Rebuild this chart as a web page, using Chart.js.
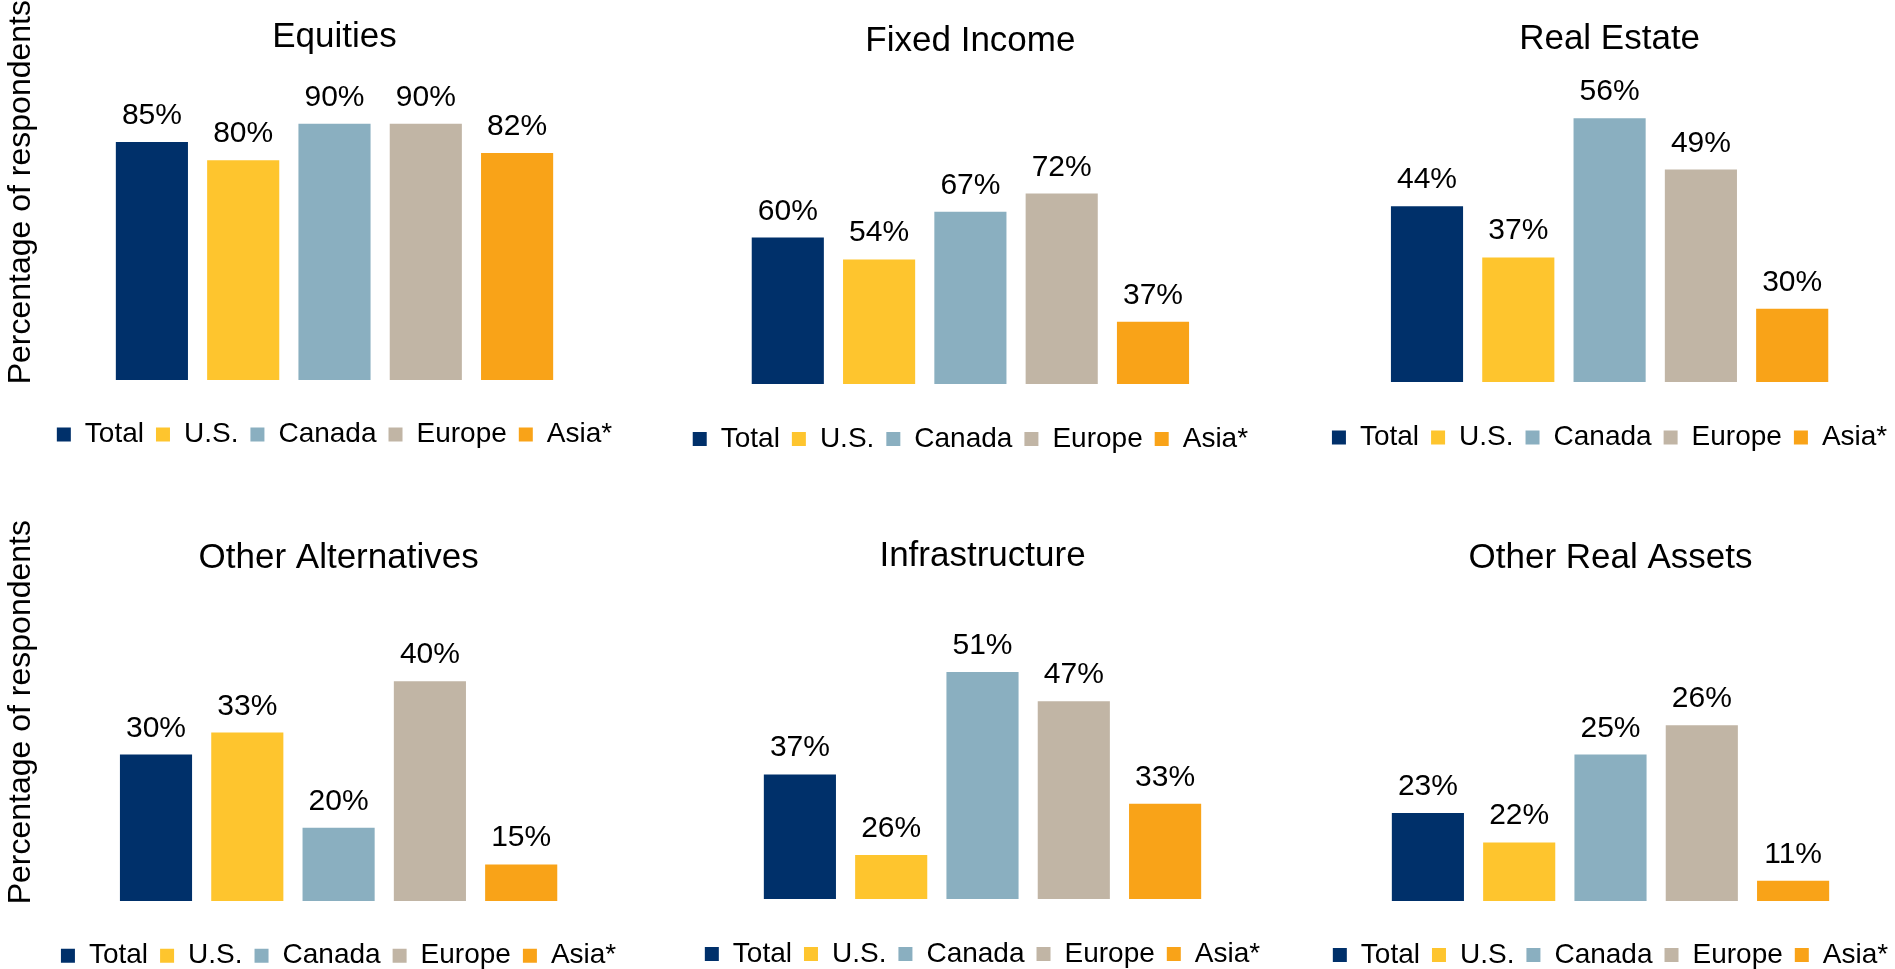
<!DOCTYPE html>
<html>
<head>
<meta charset="utf-8">
<script src="https://cdn.jsdelivr.net/npm/chart.js@4.4.1/dist/chart.umd.min.js"></script>
<style>
  html, body { margin: 0; padding: 0; background: #fff; overflow: hidden; }
  #page { position: relative; width: 1895px; height: 969px; overflow: hidden; background: #fff; }
  .panel { position: absolute; }
</style>
</head>
<body>
<div id="page"></div>
<script>
const regions = ['Total', 'U.S.', 'Canada', 'Europe', 'Asia*'];
const assetClasses = ['Equities', 'Fixed Income', 'Real Estate', 'Other Alternatives', 'Infrastructure', 'Other Real Assets'];
const equities = [85, 80, 90, 90, 82];
const fixedIncome = [60, 54, 67, 72, 37];
const realEstate = [44, 37, 56, 49, 30];
const otherAlternatives = [30, 33, 20, 40, 15];
const infrastructure = [37, 26, 51, 47, 33];
const otherRealAssets = [23, 22, 25, 26, 11];
const yAxisTitle = 'Percentage of respondents';

const regionColors = ['#00306A', '#FEC52E', '#8AAFC0', '#C1B5A5', '#F9A318'];
const FONT = '"Liberation Sans", Arial, Helvetica, sans-serif';
Chart.defaults.font.family = FONT;
Chart.defaults.color = '#000';

const PLOT_W = 596, PLOT_H = 293, GROUP_W = 5 * 91.3;
const TITLE_SIZE = 35, LEGEND_SIZE = 28, LABEL_SIZE = 30, YTITLE_SIZE = 32;
const LEGEND_PAD = 12;

// where each small chart sits on the page
// cx: centre of the bars, t: title middle, base: bar baseline, leg: legend middle
const layouts = [
  {values: equities,          col: 0, top: 0,   cx: 334.5,  t: 37,    base: 380, leg: 434.4, min: 20, max: 100},
  {values: fixedIncome,       col: 1, top: 0,   cx: 970.4,  t: 41.3,  base: 384, leg: 439.1, min: 20, max: 100},
  {values: realEstate,        col: 2, top: 0,   cx: 1609.6, t: 39.7,  base: 382, leg: 437.4, min: 20, max: 60},
  {values: otherAlternatives, col: 0, top: 520, cx: 338.6,  t: 558,   base: 901, leg: 955.7, min: 10, max: 50},
  {values: infrastructure,    col: 1, top: 520, cx: 982.5,  t: 556,   base: 899, leg: 954.1, min: 20, max: 60},
  // the source draws the small Asia* bar on its own short scale
  {values: otherRealAssets,   col: 2, top: 520, cx: 1610.5, t: 558,   base: 901, leg: 955.1, min: 20, max: 30, offScale: true}
];

// value labels above the bars
const barLabels = {
  id: 'barLabels',
  afterDatasetsDraw(chart) {
    const ctx = chart.ctx;
    ctx.save();
    ctx.font = LABEL_SIZE + 'px ' + FONT;
    ctx.fillStyle = '#000';
    ctx.textAlign = 'center';
    ctx.textBaseline = 'alphabetic';
    chart.data.datasets.forEach((ds, i) => {
      chart.getDatasetMeta(i).data.forEach((bar, j) => {
        ctx.fillText(ds.data[j] + '%', bar.x, bar.y - 18);
      });
    });
    ctx.restore();
  }
};

const page = document.getElementById('page');

layouts.forEach((p, k) => {
  const firstCol = p.col === 0;
  const height = 470;
  const yTitleW = YTITLE_SIZE * 1.2;
  const left = firstCol ? 2 : Math.round(p.cx - PLOT_W / 2 - 10);
  const plotW = firstCol ? 2 * (p.cx - left - yTitleW) : PLOT_W;
  const plotLeft = p.cx - plotW / 2;
  const plotRight = p.cx + plotW / 2;
  const width = Math.round(plotRight + 10) - left;
  const plotTop = p.base - PLOT_H;
  const titleHalf = TITLE_SIZE * 1.2 / 2;

  const div = document.createElement('div');
  div.className = 'panel';
  div.style.left = left + 'px';
  div.style.top = p.top + 'px';
  div.style.width = width + 'px';
  div.style.height = height + 'px';
  const canvas = document.createElement('canvas');
  div.appendChild(canvas);
  page.appendChild(div);

  const datasets = regions.map((r, i) => ({
    label: r,
    data: [p.values[i]],
    backgroundColor: regionColors[i],
    borderColor: regionColors[i],
    borderWidth: 0,
    categoryPercentage: GROUP_W / plotW,
    barPercentage: 0.79,
    yAxisID: (p.offScale && i === 4) ? 'y2' : 'y'
  }));

  const scales = {
    x: {
      display: true,
      grid: {display: false},
      border: {display: false},
      ticks: {display: false},
      afterFit: s => { s.height = p.leg - LEGEND_PAD - LEGEND_SIZE / 2 - p.base; }
    },
    y: {display: false, min: p.min, max: p.max}
  };
  if (p.offScale) scales.y2 = {display: false, min: 0, max: 160};

  new Chart(canvas, {
    type: 'bar',
    data: {labels: [''], datasets: datasets},
    plugins: [barLabels],
    options: {
      responsive: true,
      maintainAspectRatio: false,
      animation: false,
      layout: {
        padding: {
          top: 0,
          left: firstCol ? 0 : plotLeft - left,
          right: left + width - plotRight,
          bottom: p.top + height - (p.leg + LEGEND_SIZE / 2 + 10)
        }
      },
      plugins: {
        title: {
          display: true,
          text: assetClasses[k],
          fullSize: false,
          color: '#000',
          font: {size: TITLE_SIZE, weight: 'normal'},
          padding: {top: p.t - p.top - titleHalf, bottom: plotTop - p.t - titleHalf}
        },
        subtitle: {
          display: firstCol,
          text: yAxisTitle,
          position: 'left',
          align: 'end',
          color: '#000',
          font: {size: YTITLE_SIZE, weight: 'normal'},
          padding: {top: 0, bottom: 0}
        },
        legend: {
          position: 'bottom',
          fullSize: false,
          labels: {
            boxWidth: 14,
            boxHeight: 14,
            padding: LEGEND_PAD,
            color: '#000',
            font: {size: LEGEND_SIZE}
          }
        },
        tooltip: {enabled: false}
      },
      scales: scales
    }
  });
});
</script>
</body>
</html>
